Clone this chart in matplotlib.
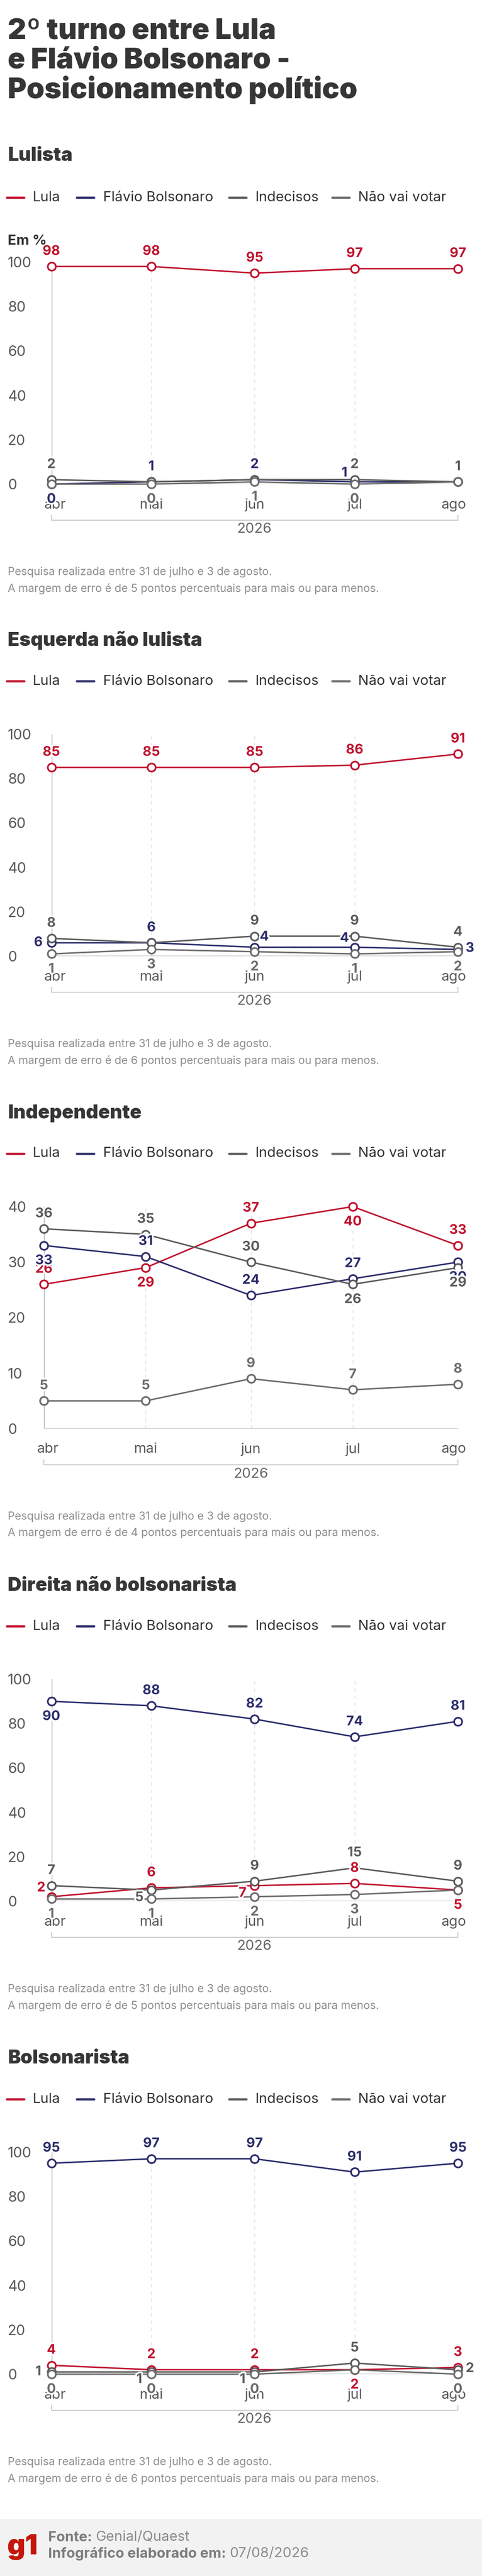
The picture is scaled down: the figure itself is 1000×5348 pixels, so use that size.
import datetime as dt
import matplotlib
matplotlib.use("Agg")
import matplotlib.pyplot as plt
import matplotlib.patheffects as pe
from matplotlib.lines import Line2D
from matplotlib.patches import Rectangle
from matplotlib.transforms import blended_transform_factory

plt.rcParams["font.family"] = ["Inter", "DejaVu Sans"]

W, H, DPI = 1000, 5348, 100

# --- dados ---
meses = [dt.date(2026, 4, 1), dt.date(2026, 5, 1), dt.date(2026, 6, 1),
         dt.date(2026, 7, 1), dt.date(2026, 8, 1)]
mes_labels = ["abr", "mai", "jun", "jul", "ago"]
series = ["Lula", "Flávio Bolsonaro", "Indecisos", "Não vai votar"]
cores = ["#c0112e", "#2b2d6c", "#5b5b5b", "#6c6c6c"]

lulista_lula = [98, 98, 95, 97, 97]
lulista_flavio = [0, 1, 2, 1, 1]
lulista_indecisos = [2, 1, 2, 2, 1]
lulista_nao_vota = [0, 0, 1, 0, 1]

esquerda_lula = [85, 85, 85, 86, 91]
esquerda_flavio = [6, 6, 4, 4, 3]
esquerda_indecisos = [8, 6, 9, 9, 4]
esquerda_nao_vota = [1, 3, 2, 1, 2]

indep_lula = [26, 29, 37, 40, 33]
indep_flavio = [33, 31, 24, 27, 30]
indep_indecisos = [36, 35, 30, 26, 29]
indep_nao_vota = [5, 5, 9, 7, 8]

direita_lula = [2, 6, 7, 8, 5]
direita_flavio = [90, 88, 82, 74, 81]
direita_indecisos = [7, 5, 9, 15, 9]
direita_nao_vota = [1, 1, 2, 3, 5]

bolso_lula = [4, 2, 2, 2, 3]
bolso_flavio = [95, 97, 97, 91, 95]
bolso_indecisos = [1, 1, 1, 5, 2]
bolso_nao_vota = [0, 0, 0, 2, 0]

margens = [5, 6, 4, 5, 6]

# where each value label sits relative to its marker (pixels)
OFF = {"a": (0, 31), "b": (0, -32), "l": (-27, 0), "r": (25, 2),
       "q": (-21, 18), "p": (20, 21), "d": (-25, -16), "x": None}

paineis = [
    dict(titulo="Lulista", dados=[lulista_lula, lulista_flavio, lulista_indecisos, lulista_nao_vota],
         ymax=100, passo=20, left=106.5, zero=1005, tit_y=323, leg_y=410,
         pos=["aaaaa", "baaqx", "axxaa", "xbbbx"]),
    dict(titulo="Esquerda não lulista", dados=[esquerda_lula, esquerda_flavio, esquerda_indecisos, esquerda_nao_vota],
         ymax=100, passo=20, left=106.5, zero=1985, tit_y=None, leg_y=None,
         pos=["aaaaa", "lapqr", "axaaa", "bbbbb"]),
    dict(titulo="Independente", dados=[indep_lula, indep_flavio, indep_indecisos, indep_nao_vota],
         ymax=40, passo=10, left=91, zero=2966, tit_y=None, leg_y=None,
         pos=["ababa", "baaab", "aaabb", "aaaaa"]),
    dict(titulo="Direita não bolsonarista", dados=[direita_lula, direita_flavio, direita_indecisos, direita_nao_vota],
         ymax=100, passo=20, left=106.5, zero=3947, tit_y=None, leg_y=None,
         pos=["qadab", "baaaa", "adaaa", "bbbbx"]),
    dict(titulo="Bolsonarista", dados=[bolso_lula, bolso_flavio, bolso_indecisos, bolso_nao_vota],
         ymax=100, passo=20, left=106.5, zero=4929, tit_y=None, leg_y=None,
         pos=["aaaba", "aaaaa", "lddar", "bbbxb"]),
]

RIGHT = 950
AX_H = 461
PT = 72 / DPI  # points per pixel
LEG_HANDLE_X = [14, 159, 475, 689]
LEG_TEXT_X = [68, 214, 529, 743]


def fy(py):
    return 1 - py / H


def inch_y(py):
    return (H - py) / DPI


fig = plt.figure(figsize=(W / DPI, H / DPI), dpi=DPI)
fig.patch.set_facecolor("white")

# title
for txt, base in [("2º turno entre Lula", 81), ("e Flávio Bolsonaro -", 142),
                  ("Posicionamento político", 204)]:
    fig.text(16 / W, fy(base), txt, fontsize=43, fontweight="black", color="#363636",
             va="baseline", ha="left")

halo = [pe.withStroke(linewidth=5, foreground="white")]

for p, margem in zip(paineis, margens):
    zero = p["zero"]
    tit_y = p["tit_y"] if p["tit_y"] else zero - 655
    leg_y = p["leg_y"] if p["leg_y"] else zero - 571

    fig.text(16 / W, fy(tit_y), p["titulo"], fontsize=28.5, fontweight="black",
             color="#363636", va="center", ha="left")

    # legend
    for nome, cor, hx, tx in zip(series, cores, LEG_HANDLE_X, LEG_TEXT_X):
        fig.add_artist(Line2D([hx / W, (hx + 36) / W], [fy(leg_y), fy(leg_y)],
                              transform=fig.transFigure, color=cor, lw=3.3,
                              solid_capstyle="round"))
        fig.text(tx / W, fy(leg_y), nome, fontsize=21, color="#333333",
                 va="center", ha="left")

    ax = fig.add_axes([p["left"] / W, fy(zero), (RIGHT - p["left"]) / W, AX_H / H])
    ax.set_xlim(meses[0], meses[-1])
    ax.set_ylim(0, p["ymax"])
    for s in ax.spines.values():
        s.set_visible(False)
    ax.set_xticks([])
    yt = list(range(0, p["ymax"] + 1, p["passo"]))
    ax.set_yticks(yt, [str(v) for v in yt], ha="left")
    ax.tick_params(axis="y", length=0, pad=(p["left"] - 16) * PT, labelsize=21.5,
                   labelcolor="#5a5a5a")

    # grid
    ax.axvline(meses[0], color="#c4c4c4", lw=2.8, zorder=1)
    for m in meses[1:]:
        ax.axvline(m, color="#dcdcdc", lw=0.9, ls=(0, (6, 6)), zorder=1)
    ax.axhline(0, color="#c4c4c4", lw=2.2, zorder=1)

    # lines
    for i, (vals, cor) in enumerate(zip(p["dados"], cores)):
        ax.plot(meses, vals, color=cor, lw=2.2, marker="o", ms=12, mfc="white",
                mec=cor, mew=2.5, clip_on=False, zorder=3 + i)

    # value labels
    for i, (vals, cor, pos) in enumerate(zip(p["dados"], cores, p["pos"])):
        for m, v, c in zip(meses, vals, pos):
            off = OFF[c]
            if off is None:
                continue
            ax.annotate(str(v), xy=(m, v), xytext=(off[0] * PT, off[1] * PT),
                        textcoords="offset points", ha="center", va="center",
                        fontsize=20, fontweight="bold", color=cor,
                        path_effects=halo, zorder=10 + i, annotation_clip=False)

    # month labels
    for j, (m, lab) in enumerate(zip(meses, mes_labels)):
        dx = 8 if j == 0 else (-8 if j == len(meses) - 1 else 0)
        ax.annotate(lab, xy=(m, 0), xytext=(dx * PT, -43 * PT), textcoords="offset points",
                    ha="center", va="center", fontsize=21, color="#5a5a5a",
                    annotation_clip=False)

    # year bracket
    bt = blended_transform_factory(ax.transData, fig.dpi_scale_trans)
    ax.plot([meses[0], meses[0], meses[-1], meses[-1]],
            [inch_y(zero + 65), inch_y(zero + 75), inch_y(zero + 75), inch_y(zero + 65)],
            transform=bt, color="#cccccc", lw=1.5, clip_on=False)
    bt2 = blended_transform_factory(ax.transAxes, fig.dpi_scale_trans)
    ax.text(0.5, inch_y(zero + 94), "2026", transform=bt2, ha="center", va="center",
            fontsize=21, color="#666666")

    # notes
    fig.text(16 / W, fy(zero + 183), "Pesquisa realizada entre 31 de julho e 3 de agosto.",
             fontsize=16.5, color="#8f8f8f", va="center", ha="left")
    fig.text(16 / W, fy(zero + 217),
             f"A margem de erro é de {margem} pontos percentuais para mais ou para menos.",
             fontsize=16.5, color="#8f8f8f", va="center", ha="left")

# "Em %" on the first chart
fig.text(16 / W, fy(500), "Em %", fontsize=21, fontweight="bold", color="#333333",
         va="center", ha="left")

# footer
fig.patches.append(Rectangle((0, 0), 1, (H - 5230) / H, transform=fig.transFigure,
                             facecolor="#f2f2f2", edgecolor="none", zorder=0))
fig.text(14 / W, fy(5288), "g1", fontsize=42, fontweight="black", color="#c4170c",
         va="center", ha="left")

renderer = fig.canvas.get_renderer()
for bold, normal, py in [("Fonte: ", "Genial/Quaest", 5268),
                         ("Infográfico elaborado em: ", "07/08/2026", 5302)]:
    t = fig.text(100 / W, fy(py), bold, fontsize=21, fontweight="bold", color="#7d7d7d",
                 va="center", ha="left")
    bb = t.get_window_extent(renderer)
    fig.text(bb.x1 / W, fy(py), normal, fontsize=21, color="#8c8c8c", va="center", ha="left")

fig.savefig("out.png", dpi=DPI)
